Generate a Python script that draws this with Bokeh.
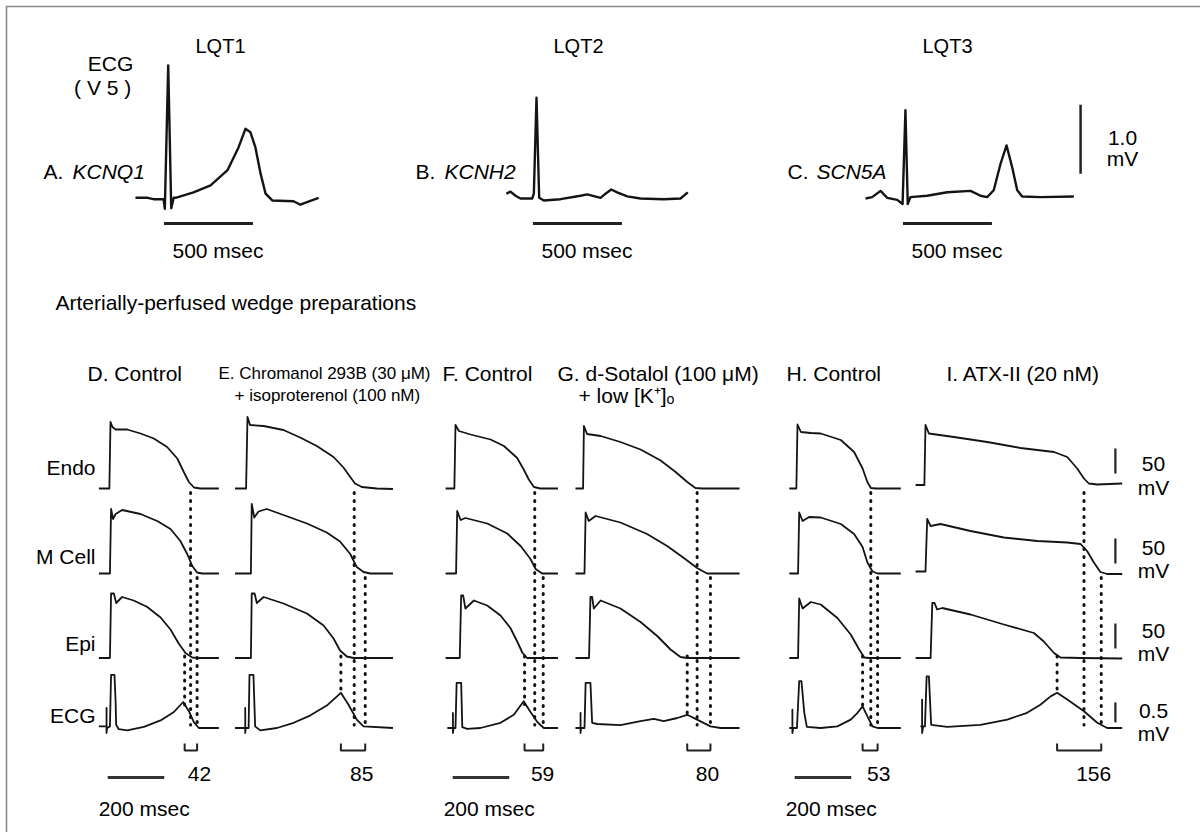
from bokeh.plotting import figure
from bokeh.models import Range1d
from bokeh.core.properties import value
from bokeh.embed import file_html
from bokeh.resources import INLINE
import numpy as np

# ---------------- data: clinical ECGs (time ms from QRS, mV) ----------------
top_titles = ["LQT1", "LQT2", "LQT3"]
gene_prefix = ["A.", "B.", "C."]
gene_names = ["KCNQ1", "KCNH2", "SCN5A"]

A_t = [-180, -112, -79, -22, -15, 4, 21, 35, 45, 146, 242, 337, 399, 438, 466, 494, 523, 551, 590, 708, 747, 776, 849]
A_v = [0.01, 0.01, -0.01, -0.01, -0.15, 1.93, -0.14, 0.01, 0.01, 0.09, 0.19, 0.41, 0.74, 1.01, 0.96, 0.74, 0.36, 0.07, -0.03, -0.04, -0.09, -0.06, 0.01]
B_t = [-169, -146, -118, -90, -24, -15, 0, 15, 41, 135, 247, 285, 360, 388, 420, 453, 510, 584, 715, 809, 850]
B_v = [0.07, 0.10, 0.04, 0.0, 0.0, 0.07, 1.46, 0.01, -0.03, -0.01, 0.04, 0.06, 0.01, 0.07, 0.13, 0.09, 0.03, 0.0, -0.01, 0.0, 0.09]
C_t = [-230, -193, -146, -108, -52, -22, -6, 7, 22, 116, 229, 360, 416, 453, 490, 528, 562, 594, 622, 650, 753, 940]
C_v = [0.0, 0.02, 0.11, 0.01, -0.02, -0.08, 1.28, -0.08, 0.02, 0.04, 0.09, 0.11, 0.04, 0.02, 0.12, 0.50, 0.77, 0.45, 0.12, 0.03, 0.02, 0.03]
top_time_bar_ms = 500
top_amp_bar_mv = 1.0

# ---------------- data: wedge preparations (time ms from upstroke, mV) ----------------
col_titles = ["D. Control", "E. Chromanol 293B (30 \u03bcM)", "F. Control",
              "G. d-Sotalol (100 \u03bcM)", "H. Control", "I. ATX-II (20 nM)"]
col_subtitles = ["", "+ isoproterenol (100 nM)", "", "+ low [K\u207a]\u2092", "", ""]
row_labels = ["Endo", "M Cell", "Epi", "ECG"]

D_endo_t = [-41, -4, 0, 7, 18, 59, 106, 153, 200, 236, 259, 277, 295, 318, 383]
D_endo_v = [-85, -85, 48, 38, 33, 33, 25, 15, -2, -25, -52, -72, -83, -85, -85]
D_m_t = [-41, -2, 2, 9, 18, 41, 106, 165, 212, 247, 271, 289, 306, 324, 383]
D_m_v = [-85, -85, 44, 24, 34, 42, 34, 20, 4, -20, -46, -70, -83, -85, -85]
D_epi_t = [-41, -2, 2, 12, 20, 41, 82, 130, 177, 212, 241, 265, 289, 318, 383]
D_epi_v = [-85, -85, 44, 44, 25, 37, 30, 17, -4, -28, -56, -75, -84, -85, -85]
D_ecg_t = [-41, -14, -14, -14, -12, -2, 2, 14, 18, 20, 29, 59, 118, 177, 224, 257, 277, 295, 312, 383]
D_ecg_v = [0.04, 0.04, 0.5, -0.125, 0, 0.04, 1.33, 1.33, 0.67, 0.08, -0.03, -0.06, 0.03, 0.19, 0.4, 0.65, 0.42, 0.14, 0, 0]

E_endo_t = [-44, -5, 0, 9, 57, 127, 186, 245, 304, 339, 363, 380, 404, 457, 514]
E_endo_v = [-85, -85, 58, 42, 40, 32, 17, 0, -22, -43, -62, -75, -82, -85, -86]
E_m_t = [-44, 12, 15, 24, 39, 68, 127, 210, 280, 327, 363, 386, 410, 434, 514]
E_m_v = [-85, -85, 54, 27, 39, 44, 32, 15, -3, -21, -46, -72, -82, -85, -85]
E_epi_t = [-44, 12, 15, 25, 33, 57, 127, 210, 269, 304, 327, 351, 375, 514]
E_epi_v = [-85, -85, 44, 44, 25, 37, 24, 4, -20, -46, -70, -82, -85, -85]
E_ecg_t = [-44, -8, -8, -8, -6, 4, 7, 21, 27, 45, 104, 163, 221, 280, 330, 357, 386, 410, 514]
E_ecg_v = [0, 0, 0.5, -0.125, 0, 0, 1.33, 1.33, 0.04, -0.06, 0, 0.13, 0.31, 0.56, 0.88, 0.58, 0.21, 0.04, 0]

F_endo_t = [-35, -4, 0, 12, 53, 124, 171, 218, 241, 259, 277, 300, 362]
F_endo_v = [-85, -85, 42, 30, 23, 13, 0, -24, -47, -67, -82, -85, -85]
F_m_t = [-35, 2, 6, 18, 35, 112, 183, 230, 265, 283, 306, 362]
F_m_v = [-85, -85, 40, 22, 26, 15, -5, -30, -56, -76, -85, -85]
F_epi_t = [-35, 15, 20, 27, 35, 65, 112, 159, 194, 218, 236, 253, 362]
F_epi_v = [-85, -85, 40, 40, 14, 30, 20, 0, -25, -52, -74, -85, -85]
F_ecg_t = [-29, -9, -9, -9, -7, 0, 4, 20, 24, 41, 88, 159, 206, 241, 265, 289, 312, 362]
F_ecg_v = [0, 0, 0.375, -0.125, 0, 0, 1.13, 1.13, 0.02, -0.02, 0, 0.13, 0.33, 0.67, 0.4, 0.15, 0, 0]

G_endo_t = [-32, -5, -2, 9, 57, 127, 198, 269, 322, 363, 392, 416, 548]
G_endo_v = [-85, -85, 40, 24, 20, 8, -7, -29, -52, -72, -84, -85, -85]
G_m_t = [-32, 0, 4, 15, 39, 127, 221, 292, 351, 398, 433, 548]
G_m_v = [-85, -85, 37, 20, 30, 17, -6, -30, -54, -74, -85, -85]
G_epi_t = [-32, 16, 21, 27, 33, 57, 127, 198, 257, 304, 339, 363, 548]
G_epi_v = [-85, -85, 37, 37, 14, 30, 14, -13, -41, -68, -83, -85, -85]
G_ecg_t = [-32, -14, -14, -14, -12, 0, 4, 21, 27, 45, 127, 198, 245, 280, 328, 363, 398, 445, 481, 548]
G_ecg_v = [0, 0, 0.375, -0.125, 0, 0, 1.13, 1.13, 0.13, 0.1, 0.07, 0.17, 0.23, 0.17, 0.25, 0.33, 0.21, 0.04, 0, 0]

H_endo_t = [-29, -4, 0, 12, 47, 82, 153, 200, 230, 247, 259, 277, 365]
H_endo_v = [-85, -85, 43, 28, 26, 25, 12, -12, -45, -72, -84, -85, -85]
H_m_t = [-29, 2, 6, 18, 41, 82, 153, 200, 230, 247, 265, 283, 365]
H_m_v = [-85, -85, 37, 20, 28, 27, 14, -6, -32, -63, -81, -85, -85]
H_epi_t = [-29, 2, 6, 18, 47, 82, 141, 188, 218, 236, 253, 365]
H_epi_v = [-85, -85, 34, 14, 27, 22, -5, -38, -68, -84, -85, -85]
H_ecg_t = [-29, -18, -18, -18, -15, -2, 6, 14, 24, 33, 82, 141, 188, 212, 230, 247, 265, 283, 365]
H_ecg_v = [0, 0, 0.46, -0.125, 0, 0, 1.17, 1.17, 0.38, 0.03, 0, 0.04, 0.21, 0.38, 0.54, 0.29, 0.04, 0, 0]

I_endo_t = [-35, -4, 0, 12, 100, 218, 336, 454, 501, 536, 560, 577, 607, 695]
I_endo_v = [-78, -78, 42, 25, 18, 8, -4, -12, -22, -45, -65, -75, -77, -75]
I_m_t = [-35, 0, 6, 18, 53, 159, 277, 395, 501, 548, 571, 595, 618, 642, 695]
I_m_v = [-81, -81, 24, 10, 14, 0, -13, -20, -23, -26, -40, -63, -82, -86, -86]
I_epi_t = [-35, 18, 24, 32, 41, 59, 159, 277, 383, 418, 454, 477, 548, 695]
I_epi_v = [-85, -85, 25, 25, 12, 15, 2, -18, -35, -52, -75, -84, -85, -86]
I_ecg_t = [-18, -12, -12, -12, -8, -2, 4, 12, 20, 77, 194, 289, 359, 406, 442, 465, 501, 560, 607, 642, 695]
I_ecg_v = [0.04, 0.04, 0.71, -0.125, 0.04, 0.04, 1.29, 1.29, 0.08, 0.03, 0.08, 0.21, 0.38, 0.58, 0.79, 0.88, 0.71, 0.42, 0.13, 0, 0]

# end of repolarization (ms): Epi, Endo, M cell ; and transmural dispersion labels
rep_epi = [262, 330, 244, 363, 230, 465]
rep_endo = [283, 377, 280, 398, 259, 560]
rep_m = [306, 416, 310, 445, 283, 621]
tdr_labels = ["42", "85", "59", "80", "53", "156"]
wedge_time_bar_ms = 200
ap_bar_mv = 50
ecg_bar_mv = 0.5
scale_labels = ["50", "50", "50", "0.5"]

# ---------------- layout (pixels) ----------------
W, H = 1200, 832
FONT = "Liberation Sans"
INK = "#141414"
FS = "21px"

p = figure(width=W, height=H, x_range=Range1d(0, W), y_range=Range1d(H, 0),
           output_backend="svg", toolbar_location=None, min_border=0,
           x_axis_location=None, y_axis_location=None, outline_line_color=None)
p.grid.visible = False
p.background_fill_color = "white"
p.border_fill_color = "white"

# frame lines
p.line([6, 6, W], [H, 6, 6], line_color="#8a8a8a", line_width=1.6)


def txt(x, y, s, size=FS, align="left", font=FONT, style="normal", baseline="alphabetic"):
    p.text(x=[x], y=[y], text=[s], text_font=value(font), text_font_size=value(size),
           text_align=align, text_baseline=baseline, text_font_style=style, text_color="#000000")


# ----- top ECG panels -----
TOP_X0 = [167, 536, 906]
TOP_BASE = 198
TOP_PX_PER_S = 178.0   # px per 1000 ms
TOP_PX_PER_MV = 69.0
top_t = [A_t, B_t, C_t]
top_v = [A_v, B_v, C_v]
top_title_x = [220, 578, 947]
gene_x = [43, 415, 787]

for i in range(3):
    x0 = TOP_X0[i]
    sub = p.subplot(x_source=Range1d(0, 1000), y_source=Range1d(0, 1),
                    x_target=Range1d(x0, x0 + TOP_PX_PER_S),
                    y_target=Range1d(TOP_BASE, TOP_BASE - TOP_PX_PER_MV))
    sub.line(top_t[i], top_v[i], line_color=INK, line_width=2.4, line_join="round")
    subx = p.subplot(x_source=Range1d(0, 1000), y_source=Range1d(0, 1),
                     x_target=Range1d(x0, x0 + TOP_PX_PER_S), y_target=Range1d(0, 1))
    subx.line([-20, -20 + top_time_bar_ms], [223, 223], line_color="#222222", line_width=3)
    txt(top_title_x[i], 45, top_titles[i], size="20px", align="center")
    txt(gene_x[i], 171, gene_prefix[i])
    txt(gene_x[i] + 29, 171, gene_names[i], style="italic")
    txt(x0 + 5, 250, "500 msec", align="left")
    if i == 2:
        sub.line([978, 978], [0.36, 0.36 + top_amp_bar_mv], line_color="#222222", line_width=2.5)

txt(110, 63, "ECG", align="center")
txt(108, 87, "(  V 5  )", align="center")
txt(1122, 137, "1.0", align="center")
txt(1122, 158, "mV", align="center")

txt(55, 302, "Arterially-perfused wedge preparations")

# ----- wedge panels -----
COL_X0 = [110, 247, 455, 584, 797, 925]
PX_PER_MS = 0.283
ROW_BASE = [488, 573, 657.5, 727.5]
AP_PX_PER_MV = 0.5
ECG_PX_PER_MV = 40.0

traces = {
    0: [(D_endo_t, D_endo_v), (D_m_t, D_m_v), (D_epi_t, D_epi_v), (D_ecg_t, D_ecg_v)],
    1: [(E_endo_t, E_endo_v), (E_m_t, E_m_v), (E_epi_t, E_epi_v), (E_ecg_t, E_ecg_v)],
    2: [(F_endo_t, F_endo_v), (F_m_t, F_m_v), (F_epi_t, F_epi_v), (F_ecg_t, F_ecg_v)],
    3: [(G_endo_t, G_endo_v), (G_m_t, G_m_v), (G_epi_t, G_epi_v), (G_ecg_t, G_ecg_v)],
    4: [(H_endo_t, H_endo_v), (H_m_t, H_m_v), (H_epi_t, H_epi_v), (H_ecg_t, H_ecg_v)],
    5: [(I_endo_t, I_endo_v), (I_m_t, I_m_v), (I_epi_t, I_epi_v), (I_ecg_t, I_ecg_v)],
}

title_x = [87, 218, 442, 557, 786, 946]
subtitle_x = [0, 234, 0, 578, 0, 0]
title_size = [FS, "17px", FS, FS, FS, FS]

row_subs = {}
for c in range(6):
    x0 = COL_X0[c]
    xt = Range1d(x0, x0 + 200 * PX_PER_MS)
    subs = []
    for r in range(4):
        base = ROW_BASE[r]
        if r < 3:
            s = p.subplot(x_source=Range1d(0, 200), y_source=Range1d(-85, -35),
                          x_target=xt, y_target=Range1d(base, base - 50 * AP_PX_PER_MV))
        else:
            s = p.subplot(x_source=Range1d(0, 200), y_source=Range1d(0, 0.5),
                          x_target=xt, y_target=Range1d(base, base - 0.5 * ECG_PX_PER_MV))
        t, v = traces[c][r]
        s.line(t, v, line_color=INK, line_width=1.8, line_join="round")
        subs.append(s)
    row_subs[c] = subs
    pix = p.subplot(x_source=Range1d(0, 200), y_source=Range1d(0, 1),
                    x_target=xt, y_target=Range1d(0, 1))
    # dotted projection lines
    ecg_t, ecg_v = traces[c][3]
    t_peak_y = ROW_BASE[3] - float(np.interp(rep_epi[c], ecg_t, ecg_v)) * ECG_PX_PER_MV
    pix.segment(x0=[rep_endo[c], rep_m[c], rep_epi[c]],
                y0=[ROW_BASE[0] + 4, ROW_BASE[1] + 4, ROW_BASE[2] - 2],
                x1=[rep_endo[c], rep_m[c], rep_epi[c]],
                y1=[ROW_BASE[3] - 3, ROW_BASE[3] - 1, t_peak_y + 2],
                line_color="#111111", line_width=3, line_dash="1 7", line_cap="round")
    # bracket
    a, b = rep_epi[c], rep_m[c]
    pix.line([a, a, b, b], [743, 750, 750, 743], line_color="#222222", line_width=2)
    pix.text(x=[(a + b) / 2], y=[773], text=[tdr_labels[c]], x_offset=-3,
             text_font=value(FONT), text_font_size=value(FS), text_align="left",
             text_baseline="alphabetic", text_color="#000000")
    # 200 msec bar
    if c in (0, 2, 4):
        pix.line([-10, -10 + wedge_time_bar_ms], [777, 777], line_color="#333333", line_width=3)
        pix.text(x=[-10], y=[808], text=["200 msec"], x_offset=-9,
                 text_font=value(FONT), text_font_size=value(FS), text_align="left",
                 text_baseline="alphabetic", text_color="#000000")
    # titles
    txt(title_x[c], 373, col_titles[c], size=title_size[c])
    if col_subtitles[c]:
        txt(subtitle_x[c], 395, col_subtitles[c], size=title_size[c])

# row labels
row_label_y = [467, 556, 643, 715]
for r in range(4):
    txt(95, row_label_y[r], row_labels[r], align="right")

# voltage scale bars (right side, in column I coordinates)
bar_t = 671
bar_bottom = [-55, -65, -66, 0.14]
bar_len = [ap_bar_mv, ap_bar_mv, ap_bar_mv, ecg_bar_mv]
lab_num_y = [463, 547, 630, 710]
lab_mv_y = [487, 570, 653, 733]
for r in range(4):
    s = row_subs[5][r]
    s.line([bar_t, bar_t], [bar_bottom[r], bar_bottom[r] + bar_len[r]], line_color="#222222", line_width=2.2)
    txt(1153, lab_num_y[r], scale_labels[r], align="center")
    txt(1153, lab_mv_y[r], "mV", align="center")

open("out.html", "w").write(file_html(p, INLINE))
